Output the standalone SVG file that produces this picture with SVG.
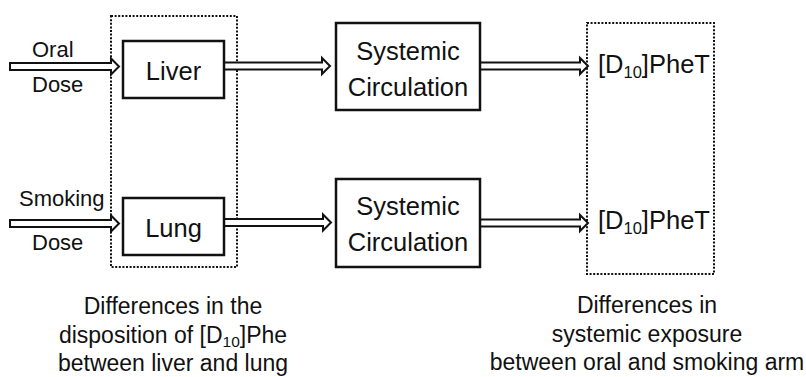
<svg xmlns="http://www.w3.org/2000/svg" width="806" height="377" viewBox="0 0 806 377">
<style>
text{font-family:"Liberation Sans",Arial,sans-serif;fill:#111}
.box{fill:#fff;stroke:#111;stroke-width:2.5}
.dot{fill:none;stroke:#111;stroke-width:2;stroke-dasharray:2 1.6}
.arr{fill:#fff;stroke:#111;stroke-width:2;stroke-linejoin:miter}
.lbl{font-size:22px}
.big{font-size:25.5px}
.cap{font-size:23px;text-anchor:middle}
.mid{text-anchor:middle}
</style>
<defs>
<path id="a108" d="M0,-3.5 H100 V-8 L108,0 L100,8 V3.5 H0 Z"/>
</defs>
<g id="region-left"><rect class="dot" x="111" y="16" width="126" height="251"/></g>
<g id="region-right"><rect class="dot" x="587" y="23" width="127" height="251"/></g>
<g id="connectors">
<path class="arr" d="M10,63 H111 V58.5 L119,66.5 L111,74.5 V70 H10 Z"/>
<path class="arr" d="M224,62.5 H322 V58 L330,66 L322,74 V69.5 H224 Z"/>
<path class="arr" d="M480,62.5 H580 V58 L588,66 L580,74 V69.5 H480 Z"/>
<path class="arr" d="M10,220 H111 V215.5 L119,223.5 L111,231.5 V227 H10 Z"/>
<path class="arr" d="M224,219 H323 V214.5 L331,222.5 L323,230.5 V226 H224 Z"/>
<path class="arr" d="M480,219.5 H580 V215 L588,223 L580,231 V226.5 H480 Z"/>
</g>
<g id="oral-label"><text class="lbl" x="32" y="57">Oral</text><text class="lbl" x="32" y="92">Dose</text></g>
<g id="smoking-label"><text class="lbl" x="19" y="206">Smoking</text><text class="lbl" x="32" y="250">Dose</text></g>
<g id="liver"><rect class="box" x="123" y="41" width="101" height="57"/><text class="big mid" x="173.5" y="80">Liver</text></g>
<g id="lung"><rect class="box" x="123" y="198" width="101" height="57"/><text class="big mid" x="173.5" y="237">Lung</text></g>
<g id="systemic1"><rect class="box" x="336" y="23" width="144" height="87"/><text class="big mid" x="408" y="60">Systemic</text><text class="big mid" x="408" y="96">Circulation</text></g>
<g id="systemic2"><rect class="box" x="336" y="179" width="144" height="88"/><text class="big mid" x="408" y="215">Systemic</text><text class="big mid" x="408" y="251">Circulation</text></g>
<g id="phet1"><text class="big" x="598" y="73">[D<tspan font-size="16.5" dy="5">10</tspan><tspan dy="-5">]PheT</tspan></text></g>
<g id="phet2"><text class="big" x="598" y="229">[D<tspan font-size="16.5" dy="5">10</tspan><tspan dy="-5">]PheT</tspan></text></g>
<g id="caption-left"><text class="cap" x="173" y="314">Differences in the</text><text class="cap" x="173" y="343">disposition of [D<tspan font-size="15.5" dy="4">10</tspan><tspan dy="-4">]Phe</tspan></text><text class="cap" x="173" y="371">between liver and lung</text></g>
<g id="caption-right"><text class="cap" x="647" y="313">Differences in</text><text class="cap" x="647" y="342">systemic exposure</text><text class="cap" x="647" y="370">between oral and smoking arm</text></g>
</svg>
